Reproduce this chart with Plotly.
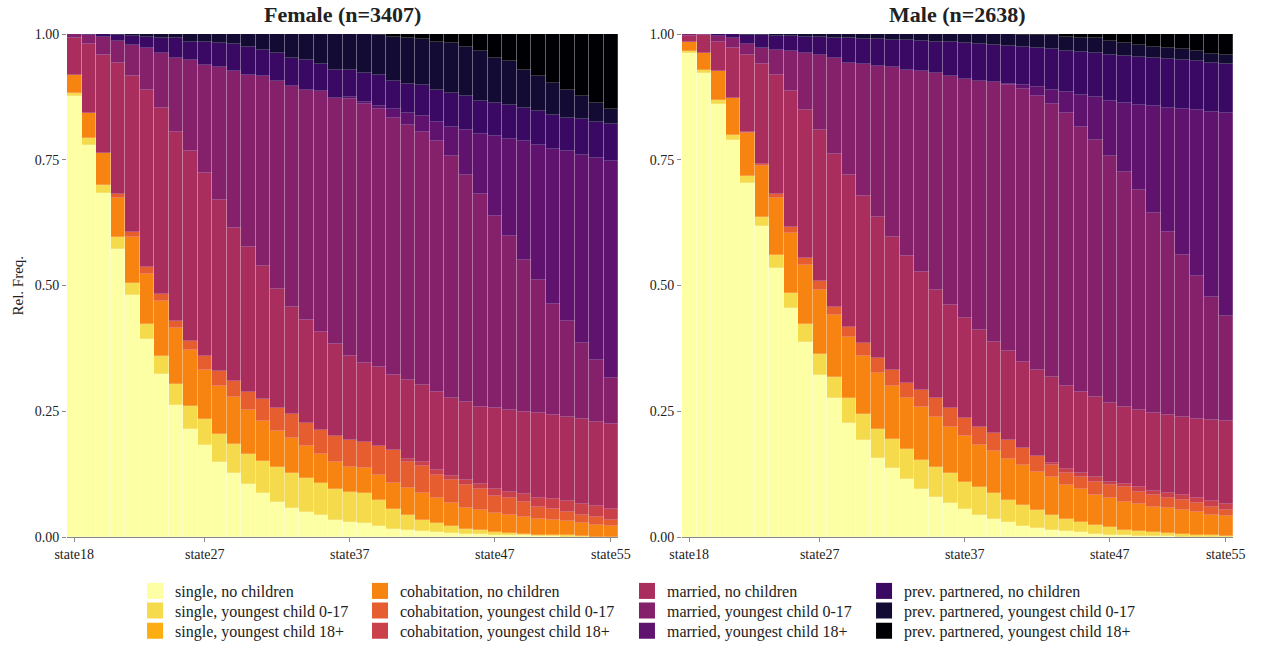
import plotly.graph_objects as go

states = ["state18", "state19", "state20", "state21", "state22", "state23", "state24", "state25",
          "state26", "state27", "state28", "state29", "state30", "state31", "state32", "state33",
          "state34", "state35", "state36", "state37", "state38", "state39", "state40", "state41",
          "state42", "state43", "state44", "state45", "state46", "state47", "state48", "state49",
          "state50", "state51", "state52", "state53", "state54", "state55"]
tick_labels = ["state18", "state27", "state37", "state47", "state55"]

labels = ["single, no children", "single, youngest child 0-17", "single, youngest child 18+",
          "cohabitation, no children", "cohabitation, youngest child 0-17", "cohabitation, youngest child 18+",
          "married, no children", "married, youngest child 0-17", "married, youngest child 18+",
          "prev. partnered, no children", "prev. partnered, youngest child 0-17", "prev. partnered, youngest child 18+"]
colors = ["#FCFFA4", "#F5DB4B", "#FCAD12", "#F78311", "#E65D2F", "#CB4149",
          "#A92E5E", "#85216B", "#60136E", "#3A0963", "#140B35", "#000004"]

# ---------------- Female (n=3407) ----------------
F_single_nc = [.877, .780, .683, .573, .481, .393, .324, .262, .214, .183, .150, .127, .105, .087, .070, .057, .050, .044, .034,
               .030, .027, .021, .015, .013, .011, .009, .007, .006, .005, .004, .003, .003, .002, .002, .001, .001, .001, .000]
F_single_017 = [.006, .013, .017, .023, .023, .031, .036, .042, .046, .051, .055, .058, .061, .065, .069, .070, .067, .063, .061,
                .060, .060, .053, .040, .031, .023, .018, .014, .009, .008, .005, .004, .002, .002, .001, .002, .001, .000, .001]
F_single_18 = [0] * 38
F_cohab_nc = [.036, .050, .063, .078, .092, .099, .110, .111, .112, .099, .095, .093, .087, .079, .072, .069, .063, .058, .055,
              .050, .050, .049, .053, .053, .053, .050, .046, .042, .041, .038, .037, .034, .031, .030, .028, .025, .023, .020]
F_cohab_017 = [0, 0, 0, .007, .010, .013, .013, .015, .018, .027, .031, .032, .036, .043, .046, .048, .046, .048, .051,
               .053, .051, .057, .065, .053, .054, .046, .046, .046, .041, .035, .033, .031, .025, .022, .019, .017, .015, .013]
F_cohab_18 = [0, 0, 0, 0, 0, 0, 0, 0, 0, 0, 0, 0, 0, 0, 0, 0, 0, 0, 0,
              0, 0, 0, 0, .006, .009, .010, .008, .010, .010, .013, .013, .016, .017, .020, .022, .022, .023, .021]
F_married_nc = [.074, .137, .196, .261, .310, .353, .370, .376, .377, .363, .339, .304, .287, .264, .237, .213, .205, .195, .183,
                .167, .157, .157, .150, .156, .152, .156, .155, .156, .154, .161, .163, .163, .169, .168, .167, .168, .167, .170]
F_married_017 = [.007, .018, .036, .045, .063, .083, .109, .146, .182, .216, .264, .312, .343, .378, .412, .439, .458, .478, .489,
                 .511, .516, .513, .511, .508, .503, .498, .481, .451, .422, .382, .345, .302, .264, .220, .191, .151, .123, .092]
F_married_18 = [0, 0, 0, 0, 0, 0, 0, 0, 0, 0, 0, 0, 0, 0, 0, 0, 0, 0, 0,
                .003, .004, .006, .016, .023, .031, .039, .059, .090, .120, .159, .194, .236, .270, .309, .337, .375, .401, .430]
F_prev_nc = [0, .002, .005, .012, .018, .023, .031, .040, .036, .046, .048, .054, .056, .053, .056, .056, .060, .054, .056,
             .055, .057, .062, .056, .058, .062, .063, .067, .066, .066, .066, .066, .066, .066, .066, .067, .072, .073, .074]
F_prev_017 = [0, 0, 0, .001, .003, .005, .007, .008, .015, .015, .018, .020, .025, .031, .038, .048, .051, .060, .071,
              .071, .078, .081, .089, .092, .093, .096, .099, .099, .099, .089, .088, .076, .070, .065, .055, .044, .036, .029]
F_prev_18 = [0, 0, 0, 0, 0, 0, 0, 0, 0, 0, 0, 0, 0, 0, 0, 0, 0, 0, 0,
             0, 0, .001, .005, .007, .009, .015, .018, .025, .034, .048, .054, .071, .084, .097, .111, .124, .138, .150]

# ---------------- Male (n=2638) ----------------
M_single_nc = [.962, .922, .861, .790, .704, .618, .535, .455, .388, .322, .276, .227, .193, .158, .137, .115, .095, .080, .067,
               .055, .044, .035, .029, .022, .017, .014, .011, .009, .006, .004, .003, .002, .002, .002, .001, .001, .001, .001]
M_single_017 = [.004, .007, .008, .010, .013, .019, .026, .030, .036, .042, .043, .049, .052, .056, .057, .059, .058, .060, .061,
                .055, .056, .052, .045, .042, .037, .030, .024, .021, .018, .015, .011, .009, .007, .005, .005, .003, .002, .001]
M_single_18 = [0] * 38
M_cohab_nc = [.019, .033, .057, .073, .086, .100, .112, .119, .117, .127, .122, .122, .115, .113, .106, .102, .106, .099, .091,
              .090, .083, .083, .082, .079, .076, .076, .068, .065, .060, .058, .056, .055, .051, .050, .048, .046, .041, .040]
M_cohab_017 = [0, 0, 0, 0, .003, .005, .008, .012, .014, .017, .017, .020, .025, .028, .032, .031, .033, .037, .037,
               .036, .036, .036, .036, .033, .031, .024, .024, .025, .026, .026, .029, .024, .024, .020, .020, .017, .016, .012]
M_cohab_18 = [0, 0, 0, 0, 0, 0, 0, 0, 0, 0, 0, 0, 0, 0, 0, 0, 0, 0, 0,
              0, 0, 0, 0, 0, 0, .004, .008, .007, .010, .007, .006, .009, .008, .010, .010, .010, .012, .012]
M_married_nc = [.012, .036, .059, .099, .153, .198, .238, .270, .293, .302, .303, .302, .292, .281, .264, .251, .235, .216, .205,
                .199, .193, .182, .177, .171, .171, .171, .165, .162, .159, .156, .154, .154, .155, .156, .155, .157, .161, .165]
M_married_017 = [.003, .002, .011, .020, .021, .032, .050, .080, .114, .148, .191, .222, .263, .300, .338, .371, .399, .430, .455,
                 .476, .495, .517, .530, .544, .544, .542, .543, .527, .511, .491, .467, .436, .397, .363, .322, .284, .245, .208]
M_married_18 = [0, 0, 0, 0, 0, 0, 0, 0, 0, 0, 0, 0, 0, 0, 0, 0, 0, 0, 0,
                0, 0, 0, .002, .007, .018, .028, .042, .063, .084, .110, .137, .170, .212, .247, .289, .330, .367, .403]
M_prev_nc = [0, 0, .004, .008, .019, .026, .028, .030, .033, .036, .041, .050, .051, .054, .055, .059, .061, .063, .068,
             .071, .073, .074, .076, .077, .078, .082, .081, .085, .088, .091, .093, .095, .096, .098, .099, .098, .097, .098]
M_prev_017 = [0, 0, 0, 0, .001, .002, .003, .004, .005, .006, .007, .008, .009, .010, .011, .012, .013, .015, .016,
              .018, .020, .021, .023, .024, .026, .027, .029, .029, .030, .029, .026, .025, .023, .022, .022, .020, .018, .018]
M_prev_18 = [0, 0, 0, 0, 0, 0, 0, 0, 0, 0, 0, 0, 0, 0, 0, 0, 0, 0, 0,
             0, 0, 0, 0, .001, .002, .002, .005, .007, .008, .013, .018, .021, .025, .027, .029, .034, .040, .042]

female = [F_single_nc, F_single_017, F_single_18, F_cohab_nc, F_cohab_017, F_cohab_18,
          F_married_nc, F_married_017, F_married_18, F_prev_nc, F_prev_017, F_prev_18]
male = [M_single_nc, M_single_017, M_single_18, M_cohab_nc, M_cohab_017, M_cohab_18,
        M_married_nc, M_married_017, M_married_18, M_prev_nc, M_prev_017, M_prev_18]

FONT = "Liberation Serif"
SEP = dict(color="rgba(255,255,255,0.35)", width=0.6)

# legend placement: 4 columns x 3 rows (container fractions)
legend_col_x = [0.1071, 0.2855, 0.4972, 0.6852]
legend_row_y = [0.0837, 0.0535, 0.0220]

fig = go.Figure()
for k in range(12):
    fig.add_trace(go.Bar(x=states, y=female[k], name=labels[k], legendgroup=labels[k],
                         showlegend=False, marker=dict(color=colors[k], line=SEP),
                         xaxis="x", yaxis="y"))
for k in range(12):
    fig.add_trace(go.Bar(x=states, y=male[k], name=labels[k], legendgroup=labels[k],
                         showlegend=False, marker=dict(color=colors[k], line=SEP),
                         xaxis="x2", yaxis="y2"))

legend_layouts = {}
for k in range(12):
    lid = "legend" if k == 0 else f"legend{k + 1}"
    fig.add_trace(go.Scatter(x=[None], y=[None], mode="markers", name=labels[k], legendgroup=labels[k],
                             legend=lid, showlegend=True,
                             marker=dict(symbol="square", size=16, color=colors[k], line=dict(width=0)),
                             xaxis="x", yaxis="y", hoverinfo="skip"))
    legend_layouts[lid] = dict(x=legend_col_x[k // 3], y=legend_row_y[k % 3], xref="container", yref="container",
                               xanchor="left", yanchor="middle", orientation="v", itemsizing="trace",
                               font=dict(family=FONT, size=16, color="#222222"), bgcolor="rgba(0,0,0,0)")

xcommon = dict(type="category", categoryorder="array", categoryarray=states, range=[-0.5, 37.5],
               tickmode="array", tickvals=tick_labels, ticks="outside", ticklen=4, tickcolor="#888888",
               showline=True, linecolor="#888888", linewidth=1, showgrid=False, zeroline=False,
               tickfont=dict(family=FONT, size=14, color="#222222"), fixedrange=True, automargin=False)
ycommon = dict(range=[0, 1], tickmode="array", tickvals=[0, 0.25, 0.5, 0.75, 1.0],
               ticktext=["0.00", "0.25", "0.50", "0.75", "1.00"], ticks="outside", ticklen=4,
               tickcolor="#888888", showline=False, showgrid=False, zeroline=False,
               tickfont=dict(family=FONT, size=14, color="#222222"), fixedrange=True, automargin=False)

fig.update_layout(
    width=1261, height=645, barmode="stack", bargap=0,
    paper_bgcolor="white", plot_bgcolor="white",
    margin=dict(l=67, r=28, t=34, b=108, autoexpand=False),
    font=dict(family=FONT, size=14, color="#222222"),
    xaxis=dict(domain=[0, 0.4726], anchor="y", **xcommon),
    xaxis2=dict(domain=[0.5274, 1], anchor="y2", **xcommon),
    yaxis=dict(domain=[0, 1], anchor="x", **ycommon),
    yaxis2=dict(domain=[0, 1], anchor="x2", **ycommon),
    annotations=[
        dict(text="<b>Female (n=3407)</b>", xref="x domain", yref="y domain", x=0.5, y=1,
             xanchor="center", yanchor="middle", yshift=20, showarrow=False,
             font=dict(family=FONT, size=22, color="#222222")),
        dict(text="<b>Male (n=2638)</b>", xref="x2 domain", yref="y2 domain", x=0.5, y=1,
             xanchor="center", yanchor="middle", yshift=20, showarrow=False,
             font=dict(family=FONT, size=22, color="#222222")),
        dict(text="Rel. Freq.", xref="paper", yref="paper", x=0, y=0.5, xshift=-50,
             xanchor="center", yanchor="middle", textangle=-90, showarrow=False,
             font=dict(family=FONT, size=15, color="#222222")),
    ],
    **legend_layouts,
)

fig.write_html("out.html", config={"displayModeBar": False},
               post_script="document.body.style.margin='0px';")
